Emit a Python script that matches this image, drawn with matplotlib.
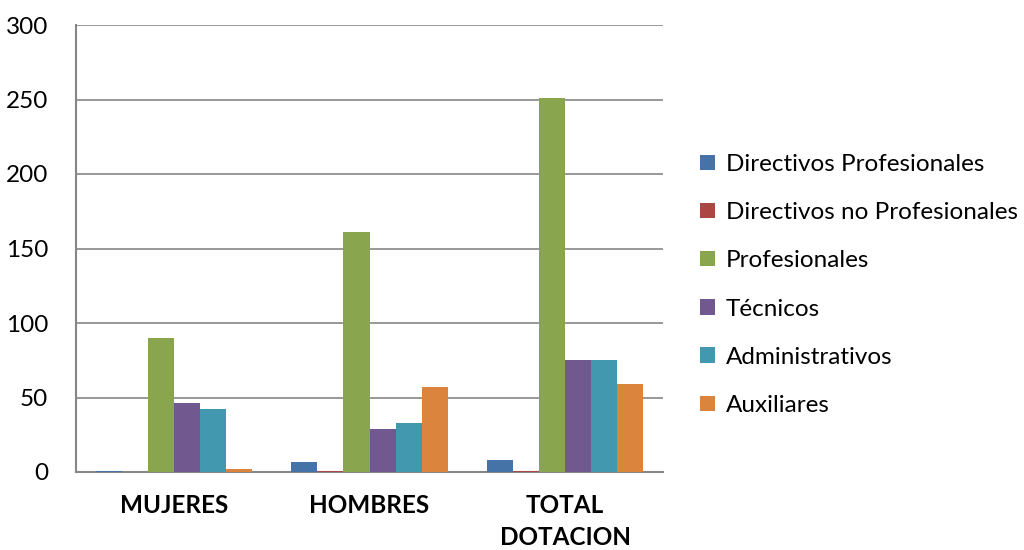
import matplotlib
matplotlib.use("Agg")
import matplotlib.pyplot as plt
import numpy as np

categories = ["MUJERES", "HOMBRES", "TOTAL\nDOTACION"]
series_names = ["Directivos Profesionales", "Directivos no Profesionales", "Profesionales",
                "Técnicos", "Administrativos", "Auxiliares"]
directivos_prof = [1, 7, 8]
directivos_no_prof = [0, 1, 1]
profesionales = [90, 161, 251]
tecnicos = [46, 29, 75]
administrativos = [42, 33, 75]
auxiliares = [2, 57, 59]
series_values = [directivos_prof, directivos_no_prof, profesionales, tecnicos, administrativos, auxiliares]
colors = ["#4572A7", "#AA4643", "#89A54E", "#71588F", "#4198AF", "#DB843D"]
yticks = [0, 50, 100, 150, 200, 250, 300]

plt.rcParams['font.family'] = ['Lato', 'DejaVu Sans']
FS = 17.5

fig = plt.figure(figsize=(10.24, 5.5), dpi=100)
ax = fig.add_axes([76/1024, 1-472/550, 587/1024, 447/550])

n = len(series_values)
w = 1/(n+1.5)
x = np.arange(len(categories))
for i, (vals, name, c) in enumerate(zip(series_values, series_names, colors)):
    ax.bar(x + (i-(n-1)/2)*w, vals, width=w, color=c, label=name, zorder=3)

ax.set_xlim(-0.5, len(categories)-0.5)
ax.set_ylim(0, 300)
ax.set_yticks(yticks)
ax.set_yticklabels([str(t) for t in yticks], fontsize=FS)
ax.yaxis.grid(True, color="#868686", linewidth=1.2, zorder=0)
ax.set_xticks(x)
ax.set_xticklabels(categories, fontsize=FS, fontweight='bold', linespacing=1.45, va='top')
ax.tick_params(axis='x', length=0, pad=16)
ax.tick_params(axis='y', length=0, pad=20)
for s in ['top', 'right']:
    ax.spines[s].set_visible(False)
for s in ['left', 'bottom']:
    ax.spines[s].set_color("#868686")
    ax.spines[s].set_linewidth(1.5)

fig.legend(loc='center left', bbox_to_anchor=(0.684, 0.482), frameon=False, fontsize=FS,
           handlelength=0.6, handleheight=0.6, handletextpad=0.45, labelspacing=1.12,
           borderpad=0, borderaxespad=0)

fig.savefig("out.png", dpi=100)
